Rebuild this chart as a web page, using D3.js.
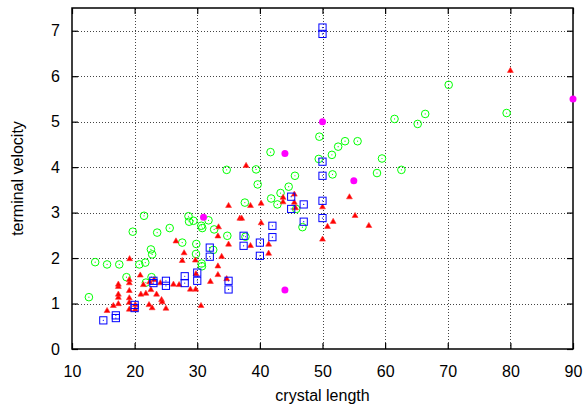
<!DOCTYPE html>
<html lang="en">
  <head>
    <meta charset="UTF-8" />
    <title>terminal velocity</title>
    <style>
      body {
        margin: 0;
        background: #fff;
      }
      text {
        font-family: "Liberation Sans", Arial, sans-serif;
      }
    </style>
  </head>
  <body>
    <svg id="svg" width="587" height="407"></svg>
    <script src="https://cdn.jsdelivr.net/npm/d3@7"></script>
    <script>
      // CONSTANTS
      const WIDTH = 587;
      const HEIGHT = 407;
      const MARGIN = { top: 8, right: 14, bottom: 58, left: 72 };

      // data: [crystal length, terminal velocity]
      const greenCircles = [
        [12.7, 1.14], [13.7, 1.91], [15.6, 1.86], [17.55, 1.86], [18.7, 1.58],
        [19.7, 2.58], [20.75, 1.86], [21.5, 2.93], [21.7, 1.9], [21.8, 1.46],
        [22.6, 2.19], [22.8, 2.08], [22.7, 1.58], [23.6, 2.56], [25.6, 2.66],
        [27.6, 2.34], [28.6, 2.92], [28.7, 2.8], [29.4, 2.82], [29.85, 2.31],
        [29.8, 2.09], [30.65, 2.71], [30.8, 2.66], [30.7, 1.88], [30.75, 1.82],
        [31.8, 2.83], [32.7, 2.63], [32.55, 2.18], [34.8, 2.49], [34.7, 3.94],
        [37.6, 3.22], [37.7, 2.47], [39.4, 3.95], [39.65, 3.62], [41.7, 4.33],
        [41.8, 3.31], [42.8, 3.18], [43.3, 3.43], [44.6, 3.57], [45.6, 3.81],
        [45.8, 3.08], [46.8, 2.68], [49.5, 4.67], [49.4, 4.18], [51.5, 4.27],
        [51.6, 3.84], [52.5, 4.45], [53.6, 4.57], [55.6, 4.57], [58.7, 3.87],
        [59.5, 4.19], [61.5, 5.06], [62.6, 3.94], [65.2, 4.95], [66.4, 5.17],
        [70.15, 5.81], [79.4, 5.19],
      ];
      const redTriangles = [
        [15.6, 0.84], [16.6, 0.95], [17.4, 0.99], [17.4, 1.13], [17.4, 1.2],
        [17.4, 1.37], [17.4, 1.42], [19.15, 0.87], [19.15, 1.02], [19.15, 1.12],
        [19.15, 1.28], [19.15, 1.45], [19.15, 1.52], [19.2, 1.98], [20.1, 0.97],
        [20.1, 0.87], [20.9, 1.62], [21.0, 1.2], [21.4, 1.41], [21.8, 1.22],
        [22.6, 1.3], [22.3, 0.97], [22.8, 0.9], [23.1, 1.52], [22.4, 1.47],
        [23.5, 1.2], [24.1, 1.45], [24.3, 1.08], [24.4, 1.03], [25.0, 0.89],
        [26.2, 1.42], [27.1, 1.41], [26.6, 2.37], [27.9, 2.11], [27.6, 1.94],
        [29.7, 1.95], [28.9, 1.31], [29.75, 1.31], [29.8, 1.65], [30.6, 0.95],
        [32.1, 1.48], [33.3, 1.63], [33.3, 1.82], [33.9, 2.03], [33.3, 2.48],
        [33.4, 2.68], [34.7, 1.54], [35.0, 2.3], [35.0, 3.15], [36.8, 2.87],
        [37.1, 2.87], [37.8, 4.03], [38.5, 3.15], [38.5, 2.27], [40.2, 3.2],
        [40.2, 2.77], [41.4, 2.3], [41.4, 2.1], [43.7, 3.33], [43.7, 3.23],
        [45.5, 3.4], [45.5, 3.22], [45.7, 3.1], [50.0, 3.12], [50.0, 2.41],
        [50.8, 2.69], [51.7, 2.8], [54.3, 3.34], [55.2, 2.93], [57.4, 2.71],
        [80.0, 6.12],
      ];
      const blueSquares = [
        [15, 0.63], [17, 0.74], [17, 0.68], [20, 0.97], [20, 0.9],
        [23, 1.5], [23, 1.45], [25, 1.5], [25, 1.39], [28, 1.6],
        [28, 1.45], [30, 1.68], [30, 1.5], [32, 2.23], [32, 2.03],
        [35, 1.5], [35, 1.31], [37.4, 2.49], [37.4, 2.27], [40, 2.34],
        [40, 2.05], [42, 2.71], [42, 2.46], [45, 3.35], [45, 3.08],
        [47, 3.18], [47, 2.8], [50, 4.12], [50, 3.81], [50, 3.26],
        [50, 2.88], [50, 7.07], [50, 6.93],
      ];
      const magentaDots = [
        [31, 2.9], [44, 4.3], [55, 3.7], [44, 1.3], [50, 5.0], [90, 5.5],
      ];
      const xTicks = [10, 20, 30, 40, 50, 60, 70, 80, 90];
      const yTicks = [0, 1, 2, 3, 4, 5, 6, 7];

      const svg = d3.select("#svg");
      const x0 = MARGIN.left, x1 = WIDTH - MARGIN.right;
      const y0 = HEIGHT - MARGIN.bottom, y1 = MARGIN.top;
      const x = d3.scaleLinear().domain([10, 90]).range([x0, x1]);
      const y = d3.scaleLinear().domain([0, 7.5]).range([y0, y1]);

      // grid
      const grid = svg.append("g")
        .attr("stroke", "#444")
        .attr("stroke-width", 1)
        .attr("stroke-dasharray", "1,2");
      grid.selectAll(".gx")
        .data(xTicks.slice(1, -1))
        .enter()
        .append("line")
        .attr("x1", (d) => Math.round(x(d)) + 0.5)
        .attr("x2", (d) => Math.round(x(d)) + 0.5)
        .attr("y1", y0)
        .attr("y2", y1);
      grid.selectAll(".gy")
        .data(yTicks.slice(1))
        .enter()
        .append("line")
        .attr("y1", (d) => Math.round(y(d)) + 0.5)
        .attr("y2", (d) => Math.round(y(d)) + 0.5)
        .attr("x1", x0)
        .attr("x2", x1);

      // axes with inward ticks on all sides
      const axisStyle = (g) => {
        g.select(".domain").remove();
        g.selectAll("line").attr("stroke", "#000").attr("stroke-width", 1.2);
        g.selectAll("text")
          .attr("fill", "#000")
          .style("font-size", "16px")
          .style("font-family", "'Liberation Sans', Arial, sans-serif");
      };
      svg.append("g")
        .attr("transform", `translate(0,${y0})`)
        .call(d3.axisTop(x).tickValues(xTicks).tickSize(6).tickFormat(""))
        .call(axisStyle);
      svg.append("g")
        .attr("transform", `translate(0,${y0})`)
        .call(d3.axisBottom(x).tickValues(xTicks).tickSize(0).tickPadding(17))
        .call(axisStyle);
      svg.append("g")
        .attr("transform", `translate(0,${y1})`)
        .call(d3.axisBottom(x).tickValues(xTicks).tickSize(6).tickFormat(""))
        .call(axisStyle);
      svg.append("g")
        .attr("transform", `translate(${x0},0)`)
        .call(d3.axisRight(y).tickValues(yTicks).tickSize(6).tickFormat(""))
        .call(axisStyle);
      svg.append("g")
        .attr("transform", `translate(${x0},0)`)
        .call(d3.axisLeft(y).tickValues(yTicks).tickSize(0).tickPadding(12))
        .call(axisStyle);
      svg.append("g")
        .attr("transform", `translate(${x1},0)`)
        .call(d3.axisLeft(y).tickValues(yTicks).tickSize(6).tickFormat(""))
        .call(axisStyle);

      // frame
      svg.append("rect")
        .attr("x", x0)
        .attr("y", y1)
        .attr("width", x1 - x0)
        .attr("height", y0 - y1)
        .attr("fill", "none")
        .attr("stroke", "#000")
        .attr("stroke-width", 1.5);

      // axis titles
      svg.append("text")
        .text("crystal length")
        .attr("x", (x0 + x1) / 2)
        .attr("y", 401)
        .attr("text-anchor", "middle")
        .style("font-size", "16px");
      svg.append("text")
        .text("terminal velocity")
        .attr("transform", `translate(23,${(y0 + y1) / 2}) rotate(-90)`)
        .attr("text-anchor", "middle")
        .style("font-size", "16px");

      // points
      const pts = svg.append("g");
      const greens = pts.append("g").selectAll("g").data(greenCircles).enter().append("g")
        .attr("transform", (d) => `translate(${x(d[0])},${y(d[1])})`);
      greens.append("circle").attr("r", 3.8).attr("fill", "none").attr("stroke", "#00ff00").attr("stroke-width", 1);
      greens.append("circle").attr("r", 0.6).attr("fill", "#00ff00");

      const tri = d3.symbol().type(d3.symbolTriangle).size(15);
      pts.append("g").selectAll("path").data(redTriangles).enter().append("path")
        .attr("d", tri)
        .attr("transform", (d) => `translate(${x(d[0])},${y(d[1])})`)
        .attr("fill", "#ff0000")
        .attr("stroke", "#ff3333")
        .attr("stroke-width", 0.6);

      const blues = pts.append("g").selectAll("g").data(blueSquares).enter().append("g")
        .attr("transform", (d) => `translate(${x(d[0])},${y(d[1])})`);
      blues.append("rect").attr("x", -3.6).attr("y", -3.6).attr("width", 7.2).attr("height", 7.2)
        .attr("fill", "none").attr("stroke", "#0000ff").attr("stroke-width", 1);
      blues.append("circle").attr("r", 0.6).attr("fill", "#0000ff");

      pts.append("g").selectAll("circle").data(magentaDots).enter().append("circle")
        .attr("cx", (d) => x(d[0]))
        .attr("cy", (d) => y(d[1]))
        .attr("r", 3.5)
        .attr("fill", "#ff00ff");
    </script>
  </body>
</html>
